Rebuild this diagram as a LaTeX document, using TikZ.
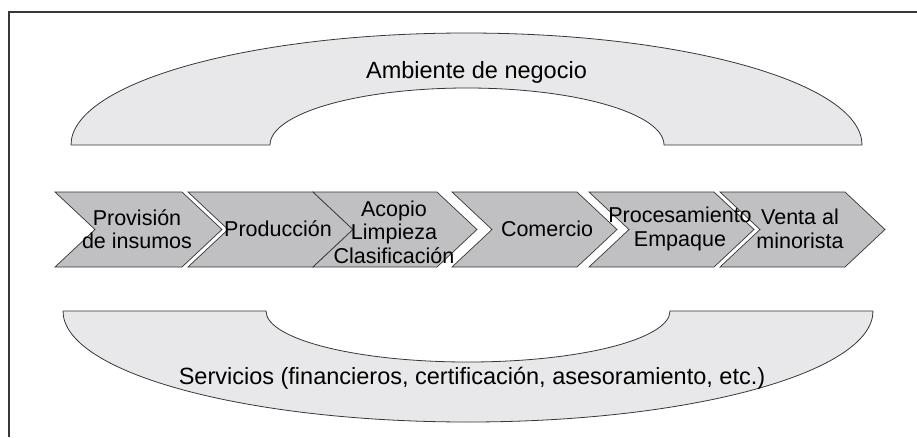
\documentclass[tikz,border=0pt]{standalone}
\usepackage{fontspec}
\setmainfont{Liberation Sans}
\definecolor{arcfill}{RGB}{232,232,234}
\definecolor{chevfill}{RGB}{192,192,194}
\definecolor{edge}{RGB}{55,55,55}
\begin{document}
\begin{tikzpicture}[x=1pt,y=-1pt,
  band/.style={fill=arcfill,draw=edge,line width=0.8pt},
  chev/.style={fill=chevfill,draw=edge,line width=0.7pt,line join=miter},
  biglabel/.style={font=\fontsize{23.5}{26}\selectfont,inner sep=0pt,anchor=base},
  chevlabel/.style={font=\fontsize{21.5}{23.5}\selectfont,align=center,inner sep=0pt}]
\useasboundingbox (0,0) rectangle (917,437);
% frame
\draw[edge,line width=1.3pt] (9,437) -- (9,12) -- (917,12);
% top band
\path[band] (71,145) arc[start angle=180,end angle=0,x radius=395.5pt,y radius=112pt]
  -- (664,145) arc[start angle=0,end angle=180,x radius=197pt,y radius=57pt] -- cycle;
% bottom band
\path[band] (63,311) arc[start angle=180,end angle=360,x radius=405pt,y radius=111pt]
  -- (670,311) arc[start angle=360,end angle=180,x radius=202pt,y radius=51pt] -- cycle;
\node[biglabel] (amb) at (476.5,78) {Ambiente de negocio};
\node[biglabel] (serv) at (472,384) {Servicios (financieros, certificación, asesoramiento, etc.)};
% chevrons
\foreach \L/\w in {55/127,188/125,313/124,452/125,589/125,720/125}{
  \path[chev] (\L,192) -- ++(\w,0) -- ++(40,37.5) -- ++(-40,37.5) -- ++(-\w,0) -- ++(40,-37.5) -- cycle;
}
\node[chevlabel] (c1) at (137,229) {Provisión\\de insumos};
\node[chevlabel] (c2) at (278,229) {Producción};
\node[chevlabel] (c3) at (394,232) {Acopio\\Limpieza\\Clasificación};
\node[chevlabel] (c4) at (547,229) {Comercio};
\node[chevlabel] (c5) at (680,229) {Procesamiento\\Empaque};
\node[chevlabel] (c6) at (800,229) {Venta al\\minorista};
\end{tikzpicture}
\end{document}
